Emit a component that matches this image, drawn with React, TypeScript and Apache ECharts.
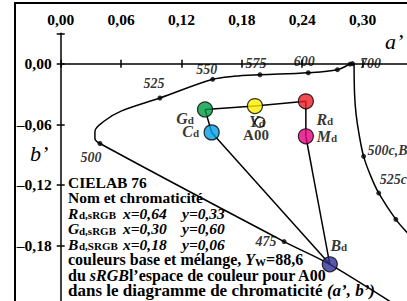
import React, { useEffect, useRef } from "react";
import * as echarts from "echarts";

const FONT = "'Liberation Serif', 'Times New Roman', serif";

// Axis ranges / ticks
const xMin = 0;
const xMax = 0.36;
const yMin = -0.24;
const yMax = 0.03;
const tickStep = 0.06;

// Spectral locus (a', b')
const locusPoints: [number, number][] = [
  [0.29, 0.0],
  [0.2875, -0.0005],
  [0.275, -0.006],
  [0.246, -0.009],
  [0.198, -0.011],
  [0.172, -0.0125],
  [0.151, -0.0155],
  [0.0986, -0.034],
  [0.06, -0.047],
  [0.043, -0.057],
  [0.034, -0.067],
  [0.034, -0.074],
  [0.039, -0.079],
  [0.222, -0.176],
  [0.2674, -0.1985],
  [0.33, -0.237],
  [0.37, -0.262],
];

// Compensative wavelength curve
const compPoints: [number, number][] = [
  [0.2915, 0.0],
  [0.292, -0.03],
  [0.2935, -0.05],
  [0.2965, -0.07],
  [0.301, -0.0917],
  [0.308, -0.111],
  [0.316, -0.128],
  [0.333, -0.154],
  [0.345, -0.168],
  [0.365, -0.19],
];

// Wavelength marker dots
const dotA = [0.29, 0.2875, 0.275, 0.246, 0.198, 0.151, 0.0986, 0.039, 0.222, 0.301, 0.316, 0.333];
const dotB = [0.0, -0.0005, -0.006, -0.009, -0.011, -0.0155, -0.034, -0.079, -0.176, -0.0917, -0.128, -0.154];
const dotLabel = ["700", "", "", "600", "575", "550", "525", "500", "475", "500c,B", "525c", ""];
const dotOffset: [number, number][] = [
  [18, 0], [0, 0], [0, 0], [-4, -11], [-4, -11], [-6, -10], [-6, -15], [-9, 14], [-18, 0], [4, -6], [1, -14], [0, 0],
];

// sRGB primaries and mixtures
const primNames = ["G", "Y", "R", "C", "M", "B"];
const primA = [0.1434, 0.193, 0.2436, 0.15, 0.2436, 0.2674];
const primB = [-0.0453, -0.042, -0.0373, -0.068, -0.0719, -0.1985];
const primColors = ["#009a44", "#ffec00", "#ed1c24", "#00a0e4", "#e5007e", "#2e3192"];
const primOffset: [number, number][] = [
  [-20, 9], [2, 15], [19, 18], [-21, -1], [21, 0], [9, -19],
];

// Achromatic point A00
const a00A = 0.198;
const a00B = -0.058;

// Connecting lines between primaries (indices into prim arrays)
const links: [number, number][] = [
  [0, 1], [1, 2], [0, 3], [2, 4], [3, 5], [4, 5],
];

const infoLines = [
  "{b|CIELAB 76}",
  "{b|Nom et chromaticité}",
  "{bi1|R}{sub1|d,sRGB}{bx|x=0,64}{bi|y=0,33}",
  "{bi1|G}{sub1|d,sRGB}{bx|x=0,30}{bi|y=0,60}",
  "{bi1|B}{sub1|d,SRGB}{bx|x=0,18}{bi|y=0,06}",
  "{b2|couleurs base et mélange, }{bi2|Y}{sub|W}{b2|=88,6}",
  "{b2|du }{bi2|sRGB}{b2|l’espace de couleur pour A00}",
  "{b3|dans le diagramme de chromaticité }{bi3|(a’, b’)}",
];

const fmt = (v: number) => {
  const k = v / tickStep;
  if (Math.abs(k - Math.round(k)) > 1e-6) return "";
  if (v > 0.305 || v < -0.21) return "";
  const s = Math.abs(v).toFixed(2).replace(".", ",");
  return v < -1e-9 ? "–" + s : s;
};

const LH = 15.5;
const TF = 15.5;
const tb = (size: number, italic: boolean, extra: object = {}) => ({
  fontFamily: FONT,
  fontWeight: "bold",
  fontStyle: italic ? "italic" : "normal",
  fontSize: size,
  color: "#000",
  lineHeight: LH,
  ...extra,
});
const richBase = {
  b: tb(TF, false),
  bi: tb(TF, true),
  bi1: tb(TF, true, { width: 11 }),
  bx: tb(TF, true, { width: 59 }),
  b2: tb(16, false),
  bi2: tb(16, true),
  b3: tb(17, false),
  bi3: tb(17, true),
  sub: { fontFamily: FONT, fontWeight: "bold", fontSize: 11, color: "#000", lineHeight: 6, verticalAlign: "bottom" },
  sub1: { fontFamily: FONT, fontWeight: "bold", fontSize: 11, color: "#000", lineHeight: 6, verticalAlign: "bottom", width: 44 },
};

export default function App() {
  const ref = useRef<HTMLDivElement>(null);
  useEffect(() => {
    if (!ref.current) return;
    const chart = echarts.init(ref.current, undefined, { renderer: "svg" });
    const axisCommon = {
      type: "value" as const,
      splitLine: { show: false },
    };
    const lineSeries = links.map(([i, j]) => ({
      type: "line",
      data: [
        [primA[i], primB[i]],
        [primA[j], primB[j]],
      ],
      showSymbol: false,
      symbol: "none",
      lineStyle: { color: "#000", width: 1.5 },
      z: 3,
      silent: true,
    }));
    chart.setOption({
      animation: false,
      grid: {
        left: 60.7,
        top: 33.3,
        right: -16,
        bottom: -5.3,
        containLabel: false,
        outerBoundsMode: "none",
      },
      xAxis: [
        {
          ...axisCommon,
          min: xMin,
          max: xMax,
          interval: tickStep,
          position: "top",
          axisLine: { lineStyle: { color: "#000", width: 1.5 } },
          axisTick: { length: 4, lineStyle: { color: "#000", width: 1.5 } },
          axisLabel: { formatter: fmt, color: "#000", fontFamily: FONT, fontWeight: "bold", fontSize: 15.5, margin: 6 },
        },
        {
          ...axisCommon,
          min: xMin,
          max: xMax,
          interval: tickStep,
          position: "top",
          axisLine: { show: false },
          axisTick: { inside: true, length: 4, lineStyle: { color: "#000", width: 1.5 } },
          axisLabel: { show: false },
        },
      ],
      yAxis: [
        {
          ...axisCommon,
          min: yMin,
          max: yMax,
          interval: tickStep,
          position: "left",
          axisLine: { lineStyle: { color: "#000", width: 1.5 } },
          axisTick: { length: 4, lineStyle: { color: "#000", width: 1.5 } },
          axisLabel: { formatter: fmt, color: "#000", fontFamily: FONT, fontWeight: "bold", fontSize: 15.5, margin: 9 },
        },
        {
          ...axisCommon,
          min: yMin,
          max: yMax,
          interval: tickStep,
          position: "left",
          axisLine: { show: false },
          axisTick: { inside: true, length: 4, lineStyle: { color: "#000", width: 1.5 } },
          axisLabel: { show: false },
        },
      ],
      graphic: [
        {
          type: "rect",
          shape: { x: 15, y: 3, width: 440, height: 340 },
          style: { fill: "none", stroke: "#000", lineWidth: 2 },
          silent: true,
        },
        {
          type: "text",
          left: 385,
          top: 30,
          style: { text: "a’", font: `italic 22px ${FONT}`, fill: "#000" },
        },
        {
          type: "text",
          left: 30,
          top: 142,
          style: { text: "b’", font: `italic 22px ${FONT}`, fill: "#000" },
        },
        {
          type: "text",
          left: 68,
          top: 174,
          z: 20,
          style: { text: infoLines.join("\n"), rich: richBase as any, fill: "#000" },
        },
      ],
      series: [
        {
          type: "line",
          data: locusPoints,
          smooth: 0.35,
          showSymbol: false,
          symbol: "none",
          lineStyle: { color: "#000", width: 1.5 },
          z: 2,
          silent: true,
        },
        {
          type: "line",
          data: compPoints,
          smooth: 0.35,
          showSymbol: false,
          symbol: "none",
          lineStyle: { color: "#000", width: 1.5 },
          z: 2,
          silent: true,
        },
        {
          type: "scatter",
          symbolSize: 5,
          itemStyle: { color: "#000" },
          z: 4,
          silent: true,
          data: dotA.map((a, i) => ({
            value: [a, dotB[i]],
            label: {
              show: dotLabel[i] !== "",
              formatter: dotLabel[i],
              position: "inside",
              offset: dotOffset[i],
              align: i >= 9 ? "left" : "center",
              fontFamily: FONT,
              fontWeight: "bold",
              fontStyle: "italic",
              fontSize: 14,
              color: "#000",
            },
          })),
        },
        ...lineSeries,
        {
          type: "scatter",
          symbolSize: 15,
          z: 5,
          silent: true,
          itemStyle: { borderColor: "#000", borderWidth: 1.2 },
          data: primA.map((a, i) => ({
            value: [a, primB[i]],
            itemStyle: { color: primColors[i] },
            label: {
              show: true,
              position: "inside",
              offset: primOffset[i],
              formatter: `{i|${primNames[i]}}{s|d}`,
              rich: {
                i: { fontFamily: FONT, fontWeight: "bold", fontStyle: "italic", fontSize: 16, color: "#000", lineHeight: 15 },
                s: { fontFamily: FONT, fontWeight: "bold", fontSize: 11, color: "#000", lineHeight: 6, verticalAlign: "bottom" },
              },
            },
          })),
        },
        {
          type: "scatter",
          symbolSize: 10,
          z: 6,
          silent: true,
          itemStyle: { color: "rgba(0,0,0,0)", borderColor: "#000", borderWidth: 1.5 },
          data: [
            {
              value: [a00A, a00B],
              label: {
                show: true,
                position: "inside",
                offset: [-4, 13],
                formatter: "A00",
                fontFamily: FONT,
                fontWeight: "bold",
                fontSize: 15,
                color: "#000",
              },
            },
          ],
        },
      ],
    });
    return () => chart.dispose();
  }, []);
  return (
    <div
      ref={ref}
      style={{ position: "fixed", left: 0, top: 0, width: 407, height: 301, background: "#fff" }}
    />
  );
}
